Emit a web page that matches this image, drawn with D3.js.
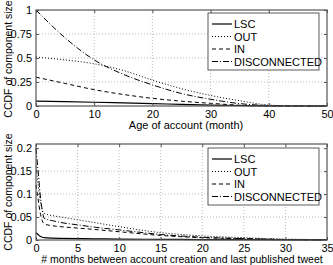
<!DOCTYPE html>
<html><head><meta charset="utf-8">
<script src="https://cdn.jsdelivr.net/npm/d3@7"></script>
<style>body{margin:0;background:#fff}svg{display:block}text{font-family:"Liberation Sans",Arial,sans-serif;fill:#000}</style>
</head><body><svg id="c" width="333" height="265"></svg>
<script>
// ---- Data ----
const seriesNames = ["LSC", "OUT", "IN", "DISCONNECTED"];
// Top panel: age of account (months)
const ageMonths = [0, 5, 10, 15, 20, 25, 30, 35, 40, 45, 50];
const ageLSC  = [0.05, 0.045, 0.039, 0.032, 0.025, 0.017, 0.01, 0.005, 0.001, 0, 0];
const ageOUT  = [0.51, 0.48, 0.44, 0.37, 0.27, 0.18, 0.11, 0.055, 0.01, 0, 0];
const ageIN   = [0.30, 0.235, 0.17, 0.12, 0.08, 0.05, 0.028, 0.008, 0.001, 0, 0];
const ageDISC = [1.0, 0.71, 0.48, 0.33, 0.22, 0.13, 0.07, 0.025, 0.005, 0, 0];
const ageTicksX = [0, 10, 20, 30, 40, 50];
const ageTicksY = [0, 0.25, 0.5, 0.75, 1];
// Bottom panel: months between creation and last tweet
const lastMonths = [0, 0.25, 0.5, 0.75, 1, 2, 3, 5, 7, 10, 15, 20, 25, 30, 35];
const lastLSC  = [0.016, 0.012, 0.008, 0.006, 0.005, 0.004, 0.0035, 0.003, 0.0025, 0.002, 0.0015, 0.001, 0.0006, 0.0003, 0.0001];
const lastOUT  = [0.16, 0.12, 0.085, 0.065, 0.058, 0.053, 0.05, 0.044, 0.038, 0.029, 0.016, 0.009, 0.005, 0.002, 0.001];
const lastIN   = [0.12, 0.09, 0.06, 0.042, 0.035, 0.031, 0.029, 0.026, 0.023, 0.018, 0.01, 0.005, 0.003, 0.001, 0];
const lastDISC = [0.2, 0.15, 0.1, 0.065, 0.047, 0.042, 0.038, 0.033, 0.028, 0.022, 0.012, 0.006, 0.003, 0.001, 0];
const lastTicksX = [0, 5, 10, 15, 20, 25, 30, 35];
const lastTicksY = [0, 0.05, 0.1, 0.15, 0.2];

const dashes = ["none", "1,2", "4,3", "6,2,1,2"];
const svg = d3.select("#c");

function panel(o) {
  const x = d3.scaleLinear().domain(o.xDomain).range([36, 327]);
  const y = d3.scaleLinear().domain(o.yDomain).range([o.bottom, o.top]);
  const g = svg.append("g");
  // grid
  g.selectAll(".gx").data(o.xTicks.slice(1, -1)).join("line")
    .attr("x1", d => x(d)).attr("x2", d => x(d)).attr("y1", o.top).attr("y2", o.bottom)
    .attr("stroke", "#aaa").attr("stroke-width", 0.8).attr("stroke-dasharray", "1,2");
  g.selectAll(".gy").data(o.yTicks.slice(1, -1)).join("line")
    .attr("y1", d => y(d)).attr("y2", d => y(d)).attr("x1", 36).attr("x2", 327)
    .attr("stroke", "#aaa").attr("stroke-width", 0.8).attr("stroke-dasharray", "1,2");
  // lines
  const line = d3.line().x((d, i) => x(o.xs[i])).y(d => y(d)).curve(d3.curveMonotoneX);
  o.series.forEach((s, k) => {
    g.append("path").attr("d", line(s)).attr("fill", "none").attr("stroke", "#000")
      .attr("stroke-width", k === 0 ? 1.2 : 1).attr("stroke-dasharray", dashes[k]);
  });
  // frame
  g.append("rect").attr("x", 36).attr("y", o.top).attr("width", 291).attr("height", o.bottom - o.top)
    .attr("fill", "none").attr("stroke", "#555").attr("stroke-width", 1.2);
  // axes
  const ax = g.append("g").attr("transform", `translate(0,${o.bottom})`)
    .call(d3.axisBottom(x).tickValues(o.xTicks).tickSize(-3).tickPadding(4).tickFormat(d3.format("d")));
  const axT = g.append("g").attr("transform", `translate(0,${o.top})`)
    .call(d3.axisTop(x).tickValues(o.xTicks).tickSize(-3).tickFormat(""));
  const ay = g.append("g").attr("transform", "translate(36,0)")
    .call(d3.axisLeft(y).tickValues(o.yTicks).tickSize(-3).tickPadding(4).tickFormat(d3.format("")));
  const ayR = g.append("g").attr("transform", "translate(327,0)")
    .call(d3.axisRight(y).tickValues(o.yTicks).tickSize(-3).tickFormat(""));
  [ax, axT, ay, ayR].forEach(a => {
    a.select(".domain").remove();
    a.selectAll(".tick line").attr("stroke", "#555");
    a.selectAll("text").attr("font-size", 11).attr("fill", "#000")
      .attr("font-family", '"Liberation Sans",Arial,sans-serif');
  });
  // labels
  g.append("text").attr("x", o.xLabelX).attr("y", o.bottom + 23).attr("text-anchor", "middle")
    .attr("font-size", o.xLabelSize).text(o.xLabel);
  g.append("text").attr("transform", `translate(12,${o.yLabelY}) rotate(-90)`)
    .attr("text-anchor", "middle").attr("font-size", 10.5).text("CCDF of component size");
  // legend
  const lg = g.append("g").attr("transform", `translate(208,${o.legTop})`);
  lg.append("rect").attr("width", 111).attr("height", 57).attr("fill", "#fff")
    .attr("stroke", "#333").attr("stroke-width", 0.8);
  seriesNames.forEach((n, k) => {
    const yy = 11 + k * 12.5;
    lg.append("line").attr("x1", 4).attr("x2", 24).attr("y1", yy).attr("y2", yy)
      .attr("stroke", "#000").attr("stroke-width", k === 0 ? 1.2 : 1).attr("stroke-dasharray", dashes[k]);
    lg.append("text").attr("x", 26).attr("y", yy + 4).attr("font-size", 11).text(n);
  });
}

panel({
  xs: ageMonths, series: [ageLSC, ageOUT, ageIN, ageDISC],
  xDomain: [0, 50], yDomain: [0, 1], top: 10, bottom: 106,
  xTicks: ageTicksX, yTicks: ageTicksY, yLabelY: 59,
  xLabel: "Age of account (month)", xLabelX: 186, xLabelSize: 11, legTop: 13
});
panel({
  xs: lastMonths, series: [lastLSC, lastOUT, lastIN, lastDISC],
  xDomain: [0, 35], yDomain: [0, 0.209], top: 144, bottom: 240,
  xTicks: lastTicksX, yTicks: lastTicksY, yLabelY: 192,
  xLabel: "# months between account creation and last published tweet", xLabelX: 182, xLabelSize: 10.5, legTop: 148
});
</script></body></html>
